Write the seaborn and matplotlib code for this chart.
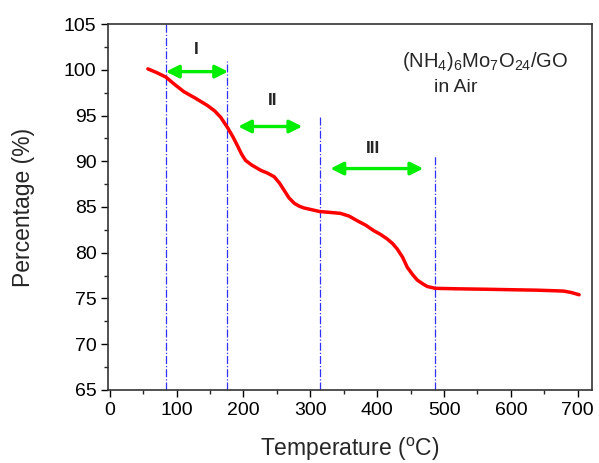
import matplotlib
matplotlib.use("Agg")
import matplotlib.pyplot as plt
import seaborn as sns
import pandas as pd

# Data
temperature = [57, 70, 84, 97, 111, 128, 146, 157, 166, 176, 184, 191, 197, 203,
               212, 226, 236, 246, 254, 261, 268, 276, 283, 290, 302, 314, 330,
               345, 358, 370, 383, 395, 405, 415, 423, 430, 438, 445, 453, 460,
               468, 475, 481, 487, 520, 564, 600, 639, 660, 679, 690, 702]
percentage = [100.1, 99.7, 99.2, 98.4, 97.6, 96.9, 96.1, 95.5, 94.8, 93.7, 92.7,
              91.7, 90.8, 90.1, 89.6, 89.0, 88.7, 88.3, 87.6, 86.8, 86.0, 85.4,
              85.1, 84.9, 84.7, 84.5, 84.4, 84.3, 84.0, 83.5, 83.0, 82.4, 82.0,
              81.5, 81.0, 80.4, 79.5, 78.4, 77.6, 77.0, 76.6, 76.3, 76.2, 76.1,
              76.05, 76.0, 75.95, 75.9, 75.85, 75.8, 75.65, 75.4]

stage_bounds = [84, 175, 315, 486]
stage_tops = [105, 101, 95.1, 90.7]
stage_labels = ["I", "II", "III"]
arrow_x0 = [84, 192, 330]
arrow_x1 = [177, 288, 469]
arrow_y = [99.8, 93.8, 89.2]
label_x = [129, 243, 393]
label_y = [102.2, 96.6, 91.4]

x_ticks = [0, 100, 200, 300, 400, 500, 600, 700]
y_ticks = [65, 70, 75, 80, 85, 90, 95, 100, 105]

sns.set_style("ticks")
plt.rcParams['font.family'] = ['Liberation Sans', 'DejaVu Sans']
plt.rcParams['mathtext.fontset'] = 'custom'
plt.rcParams['mathtext.rm'] = 'Liberation Sans'
plt.rcParams['mathtext.it'] = 'Liberation Sans'

fig = plt.figure(figsize=(5.99, 4.63), dpi=100)
ax = fig.add_axes([0.181, 0.158, 0.807, 0.79])

df = pd.DataFrame({"T": temperature, "P": percentage})

# vertical stage boundaries
for xb, yt in zip(stage_bounds, stage_tops):
    ax.plot([xb, xb], [65, yt], linestyle='-.', color='#3030ff', lw=0.9, zorder=1)

sns.lineplot(data=df, x="T", y="P", ax=ax, color='#ff0000', lw=2.5, zorder=3,
             solid_joinstyle='round', solid_capstyle='round')

for x0, x1, y in zip(arrow_x0, arrow_x1, arrow_y):
    ax.annotate("", xy=(x1, y), xytext=(x0, y),
                arrowprops=dict(arrowstyle='<|-|>', color='#00ee00', lw=2.4,
                                mutation_scale=19, shrinkA=0, shrinkB=0), zorder=4)

for lx, ly, t in zip(label_x, label_y, stage_labels):
    ax.text(lx, ly, t, ha='center', va='center', fontsize=12.5, fontweight='bold')

ax.text(562, 100.9, r'(NH$_4$)$_6$Mo$_7$O$_{24}$/GO', ha='center', va='center', fontsize=14.5)
ax.text(485, 98.1, 'in Air', ha='left', va='center', fontsize=14)

ax.set_xlim(-2, 721)
ax.set_ylim(65, 105)
ax.set_xticks(x_ticks)
ax.set_yticks(y_ticks)
ax.set_xticks(range(50, 701, 100), minor=True)
ax.set_yticks([67.5 + 5 * i for i in range(8)], minor=True)
ax.tick_params(axis='both', which='major', direction='out', length=5, width=1,
               labelsize=14, colors='black')
ax.tick_params(axis='both', which='minor', direction='out', length=3, width=1)
for s in ax.spines.values():
    s.set_visible(True)
    s.set_linewidth(1.2)
    s.set_color('#333333')

ax.set_xlabel(r'Temperature ($^{\rm o}$C)', fontsize=16.5, labelpad=12)
ax.set_ylabel('Percentage (%)', fontsize=16.5, labelpad=21)

fig.savefig("out.png", dpi=100, facecolor='white')
